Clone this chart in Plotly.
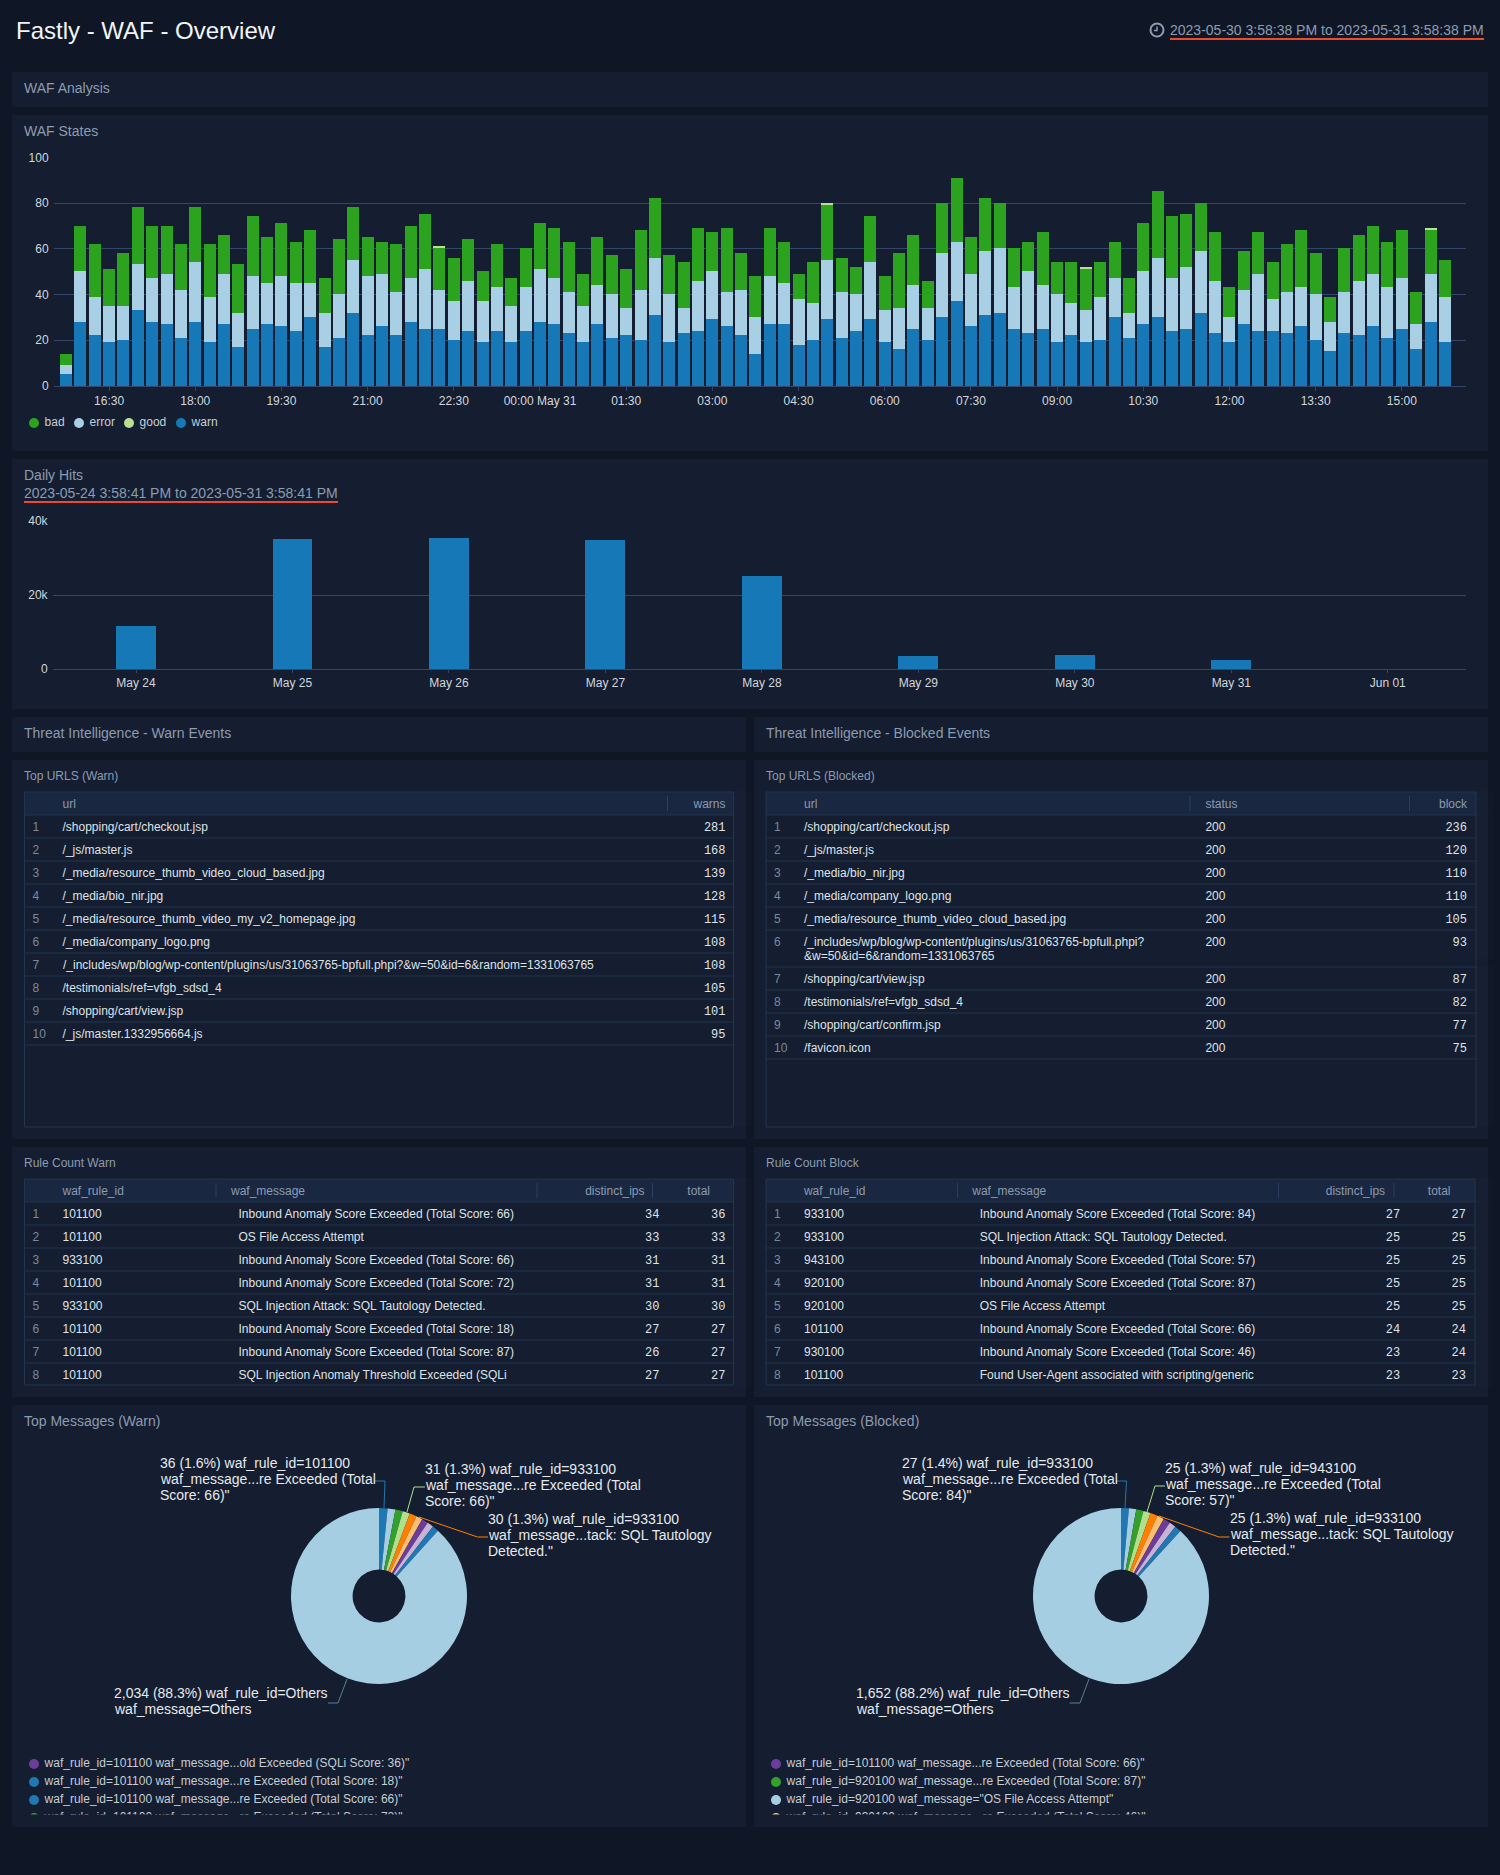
#Fastly WAF Overview dashboard, single Plotly figure with pixel placed panels
import pandas as pd
import plotly.graph_objects as go

# ---------- DATA ----------
warn = [5,28,22,19,20,33,28,27,21,28,19,27,17,25,27,26,24,30,17,21,32,22,26,22,28,25,25,20,24,19,24,19,
        24,28,27,23,19,27,21,22,20,31,19,23,24,29,26,22,14,27,27,18,20,29,21,24,29,19,16,25,20,30,37,26,
        31,32,25,23,25,19,22,19,20,30,21,27,30,24,25,32,23,19,27,24,24,23,26,20,15,23,22,26,21,25,16,28,19]
error = [4,22,17,16,15,20,19,22,21,26,20,22,15,23,18,22,21,15,15,19,23,26,23,19,19,26,17,17,22,18,19,16,
         19,23,20,18,16,17,19,12,22,25,21,11,22,21,15,20,16,21,18,20,16,26,20,16,25,14,18,19,14,28,26,23,
         28,28,18,27,19,21,14,14,19,17,11,23,26,23,27,27,23,11,15,25,14,18,17,20,13,18,24,23,22,22,11,21,20]
bad = [5,20,23,16,23,25,23,21,20,24,23,17,21,26,20,23,18,23,15,24,23,17,14,21,23,24,18,19,18,13,19,12,
       17,20,22,22,14,21,17,17,26,26,17,20,23,17,28,16,18,21,18,11,18,24,15,12,20,15,24,22,12,22,28,16,
       23,20,17,13,23,14,18,18,15,16,15,21,29,27,23,21,21,13,17,18,16,21,25,18,11,19,20,21,20,21,14,19,16]
good = [0]*97
for i in [26,53,71,95]:
    good[i] = 1

hit_days = ["2023-05-24","2023-05-25","2023-05-26","2023-05-27","2023-05-28","2023-05-29","2023-05-30","2023-05-31"]
hit_values = [11700,35100,35400,35000,25200,3600,3700,2500]
hit_ticks = hit_days + ["2023-06-01"]
hit_labels = ["May 24","May 25","May 26","May 27","May 28","May 29","May 30","May 31","Jun 01"]

waf_tick_times = ["2023-05-30 16:30","2023-05-30 18:00","2023-05-30 19:30","2023-05-30 21:00","2023-05-30 22:30",
                  "2023-05-31 00:00","2023-05-31 01:30","2023-05-31 03:00","2023-05-31 04:30","2023-05-31 06:00",
                  "2023-05-31 07:30","2023-05-31 09:00","2023-05-31 10:30","2023-05-31 12:00","2023-05-31 13:30",
                  "2023-05-31 15:00"]
waf_tick_labels = ["16:30","18:00","19:30","21:00","22:30","00:00 May 31","01:30","03:00","04:30","06:00",
                   "07:30","09:00","10:30","12:00","13:30","15:00"]

# plotly tables grow any row holding an ampersand, those url parts go in as labels further down
long_url = "/_includes/wp/blog/wp-content/plugins/us/31063765-bpfull.phpi?&w=50&id=6&random=1331063765"
long_url_head = "/_includes/wp/blog/wp-content/plugins/us/31063765-bpfull.phpi?"
long_url_tail = "&w=50&id=6&random=1331063765"

warn_urls = ["/shopping/cart/checkout.jsp","/_js/master.js","/_media/resource_thumb_video_cloud_based.jpg",
             "/_media/bio_nir.jpg","/_media/resource_thumb_video_my_v2_homepage.jpg","/_media/company_logo.png",
             "","/testimonials/ref=vfgb_sdsd_4","/shopping/cart/view.jsp","/_js/master.1332956664.js"]
warn_counts = [281,168,139,128,115,108,108,105,101,95]

block_urls = ["/shopping/cart/checkout.jsp","/_js/master.js","/_media/bio_nir.jpg","/_media/company_logo.png",
              "/_media/resource_thumb_video_cloud_based.jpg",long_url_head,
              "/shopping/cart/view.jsp","/testimonials/ref=vfgb_sdsd_4","/shopping/cart/confirm.jsp","/favicon.icon"]
block_status = ["200"]*10
block_counts = [236,120,110,110,105,93,87,82,77,75]

warn_rule_ids = ["101100","101100","933100","101100","933100","101100","101100","101100"]
warn_messages = ["Inbound Anomaly Score Exceeded (Total Score: 66)","OS File Access Attempt",
                 "Inbound Anomaly Score Exceeded (Total Score: 66)","Inbound Anomaly Score Exceeded (Total Score: 72)",
                 "SQL Injection Attack: SQL Tautology Detected.","Inbound Anomaly Score Exceeded (Total Score: 18)",
                 "Inbound Anomaly Score Exceeded (Total Score: 87)","SQL Injection Anomaly Threshold Exceeded (SQLi"]
warn_ips = [34,33,31,31,30,27,26,27]
warn_totals = [36,33,31,31,30,27,27,27]

block_rule_ids = ["933100","933100","943100","920100","920100","101100","930100","101100"]
block_messages = ["Inbound Anomaly Score Exceeded (Total Score: 84)","SQL Injection Attack: SQL Tautology Detected.",
                  "Inbound Anomaly Score Exceeded (Total Score: 57)","Inbound Anomaly Score Exceeded (Total Score: 87)",
                  "OS File Access Attempt","Inbound Anomaly Score Exceeded (Total Score: 66)",
                  "Inbound Anomaly Score Exceeded (Total Score: 46)","Found User-Agent associated with scripting/generic"]
block_ips = [27,25,25,25,25,24,23,23]
block_totals = [27,25,25,25,25,24,24,23]

pie_warn = [36,33,31,31,30,27,27,27,27,2034]
pie_block = [27,25,25,25,25,24,24,23,23,1652]
pie_colors = ["#1f78b4","#a6cee3","#33a02c","#b2df8a","#ff7f00","#fdbf6f","#6a3d9a","#cab2d6","#1f78b4","#a6cee3"]

legend_warn = ['waf_rule_id=101100 waf_message...old Exceeded (SQLi Score: 36)"',
               'waf_rule_id=101100 waf_message...re Exceeded (Total Score: 18)"',
               'waf_rule_id=101100 waf_message...re Exceeded (Total Score: 66)"',
               'waf_rule_id=101100 waf_message...re Exceeded (Total Score: 72)"']
legend_warn_colors = ["#6a3d9a","#1f78b4","#1f78b4","#33a02c"]
legend_block = ['waf_rule_id=101100 waf_message...re Exceeded (Total Score: 66)"',
                'waf_rule_id=920100 waf_message...re Exceeded (Total Score: 87)"',
                'waf_rule_id=920100 waf_message="OS File Access Attempt"',
                'waf_rule_id=930100 waf_message...re Exceeded (Total Score: 46)"']
legend_block_colors = ["#6a3d9a","#33a02c","#a6cee3","#fdbf6f"]
state_names = ["bad","error","good","warn"]

# ---------- STYLE ----------
W, H = 1500, 1875
PAGE = "#0f1726"
PANEL = "#141e30"
HEAD = "#1a2740"
RULE = "#22344f"
GRID = "#33466a"
MUTED = "#8d9bb0"
TEXT = "#dfe3e8"
INDEX = "#7a899e"
ORANGE = "#f0482a"
CLEAR = "rgba(0,0,0,0)"
C_WARN, C_ERROR, C_BAD, C_GOOD = "#1778b8", "#a8cfe4", "#2ba31f", "#b8e08e"
SANS = "Liberation Sans"
MONO = "Liberation Mono"
EMPTY_HEAD = 17.5   # height plotly still gives a table with no header

def fx(x): return x/W
def fy(y): return 1-y/H

shapes = []
annotations = []

def rect(x0,y0,x1,y1,fill=None,line=None,width=1,layer="below"):
    shapes.append(dict(type="rect",xref="paper",yref="paper",x0=fx(x0),x1=fx(x1),y0=fy(y0),y1=fy(y1),
                       fillcolor=fill or CLEAR,line=dict(color=line or CLEAR,width=width if line else 0),layer=layer))

def seg(pts,color,width=1,opacity=1):
    path = "M"+" L".join(f"{fx(x):.5f},{fy(y):.5f}" for x,y in pts)
    shapes.append(dict(type="path",xref="paper",yref="paper",path=path,line=dict(color=color,width=width),opacity=opacity,layer="above"))

def label(x,y,txt,size=14,color=MUTED,anchor="left"):
    annotations.append(dict(xref="paper",yref="paper",x=fx(x),y=fy(y),text=txt,showarrow=False,xanchor=anchor,yanchor="middle",
                            borderpad=0,borderwidth=0,font=dict(family=SANS,size=size,color=color)))

fig = go.Figure()

# ---------- PANELS ----------
for box in [(12,72,1488,107),(12,115,1488,451),(12,459,1488,709),
            (12,717,746,752),(754,717,1488,752),(12,760,746,1139),(754,760,1488,1139),
            (12,1147,746,1397),(754,1147,1488,1397),(12,1405,746,1827),(754,1405,1488,1827)]:
    rect(*box,fill=PANEL)

label(16,30,"Fastly - WAF - Overview",size=24,color="#f2f4f7")
label(1170,30,"2023-05-30 3:58:38 PM to 2023-05-31 3:58:38 PM")
rect(1170,38,1484,40,fill=ORANGE)
shapes.append(dict(type="circle",xref="paper",yref="paper",x0=fx(1150.5),x1=fx(1163.5),y0=fy(23.5),y1=fy(36.5),line=dict(color=MUTED,width=2)))
seg([(1157,26.5),(1157,30.5),(1154,30.5)],MUTED,1.5)
label(24,88,"WAF Analysis")
label(24,131,"WAF States")
label(24,475,"Daily Hits")
label(24,493,"2023-05-24 3:58:41 PM to 2023-05-31 3:58:41 PM")
rect(24,501,338,503,fill=ORANGE)
label(24,733,"Threat Intelligence - Warn Events")
label(766,733,"Threat Intelligence - Blocked Events")
label(24,776,"Top URLS (Warn)",size=12)
label(766,776,"Top URLS (Blocked)",size=12)
label(24,1163,"Rule Count Warn",size=12)
label(766,1163,"Rule Count Block",size=12)
label(24,1421,"Top Messages (Warn)")
label(766,1421,"Top Messages (Blocked)")

# ---------- WAF STATES ----------
bucket_times = pd.date_range("2023-05-30 15:45",periods=len(warn),freq="15min")
bar_ms = 750000
for name,vals,color in [("warn",warn,C_WARN),("error",error,C_ERROR),("bad",bad,C_BAD),("good",good,C_GOOD)]:
    fig.add_trace(go.Bar(x=bucket_times,y=vals,name=name,width=bar_ms,marker=dict(color=color,line=dict(width=0)),
                         showlegend=False,xaxis="x",yaxis="y"))

# ---------- DAILY HITS ----------
fig.add_trace(go.Bar(x=hit_days,y=hit_values,width=0.255*86400000,marker=dict(color=C_WARN,line=dict(width=0)),
                     showlegend=False,xaxis="x2",yaxis="y2"))

# ---------- TABLES ----------
def table_head(left,right,top,head,head_w,head_align):
    fig.add_trace(go.Table(
        domain=dict(x=[fx(left),fx(right)],y=[fy(top+23),fy(top-1)]),
        columnwidth=head_w,
        header=dict(values=head,align=head_align,height=23,fill_color=CLEAR,line=dict(width=0),
                    font=dict(family=SANS,size=12,color=MUTED)),
        cells=dict(values=[[] for _ in head],fill_color=CLEAR,line=dict(width=0))))

def table_rows(left,right,top,bottom,cols,cell_w,cell_align,cell_fonts,first=1):
    index = [str(first+i) for i in range(len(cols[0]))]
    fig.add_trace(go.Table(
        domain=dict(x=[fx(left),fx(right)],y=[fy(bottom),fy(top-EMPTY_HEAD)]),
        columnwidth=cell_w,
        header=dict(values=[],height=1,fill_color=CLEAR,line=dict(width=0)),
        cells=dict(values=[index]+cols,align=cell_align,height=23,fill_color=CLEAR,line=dict(width=0),
                   font=dict(family=[SANS]+[f[0] for f in cell_fonts],size=12,color=[INDEX]+[f[1] for f in cell_fonts]))))

def table_frame(left,right,top,bottom,row_h,seps):
    rect(left,top,right,top+23,fill=HEAD)
    rect(left,top,right,bottom,line=RULE,layer="above")
    y = top+23
    seg([(left,y),(right,y)],RULE)
    for h in row_h:
        y += h
        if y < bottom-3:
            seg([(left,y),(right,y)],RULE)
    for s in seps:
        seg([(s,top+4),(s,top+19)],"#2d3f5e")

sans_cell, mono_cell = (SANS,TEXT), (MONO,TEXT)

# top urls warn
table_frame(24.5,733.5,792,1127,[23]*10,[667.5])
table_head(24.5,733.5,792,["","url","warns"],[30,613,66],["left","left","right"])
table_rows(24.5,733.5,815,1127,[warn_urls,warn_counts],[30,613,66],["left","left","right"],[sans_cell,mono_cell])
label(62.5,965,long_url,size=12,color=TEXT)

# top urls blocked, row 6 is wrapped so the rows after it sit in their own trace
url_w = [30,402,211,67]
url_align = ["left","left","left","right"]
url_fonts = [sans_cell,sans_cell,mono_cell]
table_frame(766,1476,792,1127,[23]*5+[37]+[23]*4,[1190,1409.5])
table_head(766,1476,792,["","url","status","block"],url_w,url_align)
table_rows(766,1476,815,960,[block_urls[:6],block_status[:6],block_counts[:6]],url_w,url_align,url_fonts)
table_rows(766,1476,967,1127,[block_urls[6:],block_status[6:],block_counts[6:]],url_w,url_align,url_fonts,first=7)
label(804,955.7,long_url_tail,size=12,color=TEXT)

# rule counts
rule_head = ["","waf_rule_id","waf_message","distinct_ips","total",""]
rule_head_w = [30,168.5,314.5,115,65.5,15.5]
rule_head_align = ["left","left","left","right","right","left"]
rule_cell_w = [30,176,310,127,66]
rule_cell_align = ["left","left","left","right","right"]
rule_fonts = [sans_cell,sans_cell,mono_cell,mono_cell]
table_frame(24.5,733.5,1179,1385,[23]*8,[216,537,652.5])
table_head(24.5,733.5,1179,rule_head,rule_head_w,rule_head_align)
table_rows(24.5,733.5,1202,1389,[warn_rule_ids,warn_messages,warn_ips,warn_totals],rule_cell_w,rule_cell_align,rule_fonts)
table_frame(766,1475,1179,1385,[23]*8,[957.5,1278.5,1394])
table_head(766,1475,1179,rule_head,rule_head_w,rule_head_align)
table_rows(766,1475,1202,1389,[block_rule_ids,block_messages,block_ips,block_totals],rule_cell_w,rule_cell_align,rule_fonts)

# ---------- PIES ----------
for vals,cx in [(pie_warn,379),(pie_block,1121)]:
    fig.add_trace(go.Pie(values=vals,hole=0.3,sort=False,direction="clockwise",rotation=0,textinfo="none",showlegend=False,
                         marker=dict(colors=pie_colors,line=dict(width=0)),
                         domain=dict(x=[fx(cx-88),fx(cx+88)],y=[fy(1596+88),fy(1596-88)])))

def callout(x,ys,lines,pts,color):
    for y,t in zip(ys,lines):
        label(x,y,t,size=14,color="#e6e9ed")
    seg(pts,color)

callout(160,[1463,1479,1495],["36 (1.6%) waf_rule_id=101100","waf_message...re Exceeded (Total",'Score: 66)"'],
        [(375,1481),(385,1481),(384,1508)],pie_colors[0])
callout(425,[1469,1485,1501],["31 (1.3%) waf_rule_id=933100","waf_message...re Exceeded (Total",'Score: 66)"'],
        [(425,1487),(414,1487),(407,1512)],pie_colors[3])
callout(488,[1519,1535,1551],["30 (1.3%) waf_rule_id=933100","waf_message...tack: SQL Tautology",'Detected."'],
        [(488,1537),(477.5,1537),(419,1517)],pie_colors[4])
callout(114,[1693,1709],["2,034 (88.3%) waf_rule_id=Others","waf_message=Others"],
        [(328,1703),(338,1703),(347,1679)],"#5d7c96")
callout(902,[1463,1479,1495],["27 (1.4%) waf_rule_id=933100","waf_message...re Exceeded (Total",'Score: 84)"'],
        [(1116,1481),(1126.5,1481),(1125,1508)],pie_colors[0])
callout(1165,[1468,1484,1500],["25 (1.3%) waf_rule_id=943100","waf_message...re Exceeded (Total",'Score: 57)"'],
        [(1165,1486),(1155,1486),(1147,1512)],pie_colors[3])
callout(1229.5,[1518,1534,1550],["25 (1.3%) waf_rule_id=933100","waf_message...tack: SQL Tautology",'Detected."'],
        [(1229.5,1537),(1219,1537),(1159,1516)],pie_colors[4])
callout(856,[1693,1709],["1,652 (88.2%) waf_rule_id=Others","waf_message=Others"],
        [(1069.5,1703),(1080,1703),(1089,1679)],"#5d7c96")

# ---------- LEGENDS (hidden axes so the clipped last row is cut like the original) ----------
def dot_legend(names,colors,xs,ys,ax):
    fig.add_trace(go.Scatter(x=xs,y=ys,mode="markers+text",text=["\u00a0"+n for n in names],textposition="middle right",cliponaxis=True,
                             marker=dict(color=colors,size=10),textfont=dict(family=SANS,size=12,color="#c8cdd4"),
                             showlegend=False,xaxis="x"+ax,yaxis="y"+ax))

dot_legend(legend_warn,legend_warn_colors,[10]*4,list(range(4)),"3")
dot_legend(legend_block,legend_block_colors,[10]*4,list(range(4)),"4")
dot_legend(state_names,[C_BAD,C_ERROR,C_GOOD,C_WARN],[10,55,105,157],[0]*4,"5")

def hidden(domain,rng):
    return dict(domain=domain,range=rng,visible=False,fixedrange=True)

axis_font = dict(family=SANS,size=12,color="#d3d7dd")
fig.update_layout(
    template="none",
    width=W,height=H,margin=dict(l=0,r=0,t=0,b=0,pad=0,autoexpand=False),autosize=False,
    paper_bgcolor=PAGE,plot_bgcolor=CLEAR,barmode="stack",bargap=0,
    shapes=shapes,annotations=annotations,showlegend=False,
    xaxis=dict(domain=[fx(54),fx(1466)],type="date",range=["2023-05-30 15:32:30","2023-05-31 16:07:00"],
               tickvals=waf_tick_times,ticktext=waf_tick_labels,ticks="outside",ticklen=4,tickcolor=GRID,tickfont=axis_font,
               showgrid=False,showline=True,linecolor=GRID,anchor="y",zeroline=False),
    yaxis=dict(domain=[fy(386),fy(157.3)],range=[0,100],tickvals=[0,20,40,60,80,100],tickfont=axis_font,
               ticks="outside",ticklen=2,tickcolor=CLEAR,gridcolor=GRID,showline=False,zeroline=False,anchor="x"),
    xaxis2=dict(domain=[fx(53),fx(1466)],type="date",range=["2023-05-23 11:16","2023-06-01 12:00"],
                tickvals=hit_ticks,ticktext=hit_labels,ticks="outside",ticklen=3,tickcolor=GRID,tickfont=axis_font,
                showgrid=False,showline=True,linecolor=GRID,anchor="y2",zeroline=False),
    yaxis2=dict(domain=[fy(669),fy(521)],range=[0,40000],tickvals=[0,20000,40000],ticktext=["0","20k","40k"],tickfont=axis_font,
                ticks="outside",ticklen=2,tickcolor=CLEAR,gridcolor=GRID,showline=False,zeroline=False,anchor="x2"),
    xaxis3=hidden([fx(24),fx(730)],[0,706]),
    yaxis3=hidden([fy(1814.5),fy(1757)],[2.806,-0.389]),
    xaxis4=hidden([fx(766),fx(1472)],[0,706]),
    yaxis4=hidden([fy(1814.5),fy(1757)],[2.806,-0.389]),
    xaxis5=hidden([fx(24),fx(400)],[0,376]),
    yaxis5=hidden([fy(433),fy(413)],[-1,1]),
)
fig.write_html("out.html",config={"displayModeBar":False},
               post_script="document.body.style.margin='0';document.body.style.background='%s';" % PAGE)
